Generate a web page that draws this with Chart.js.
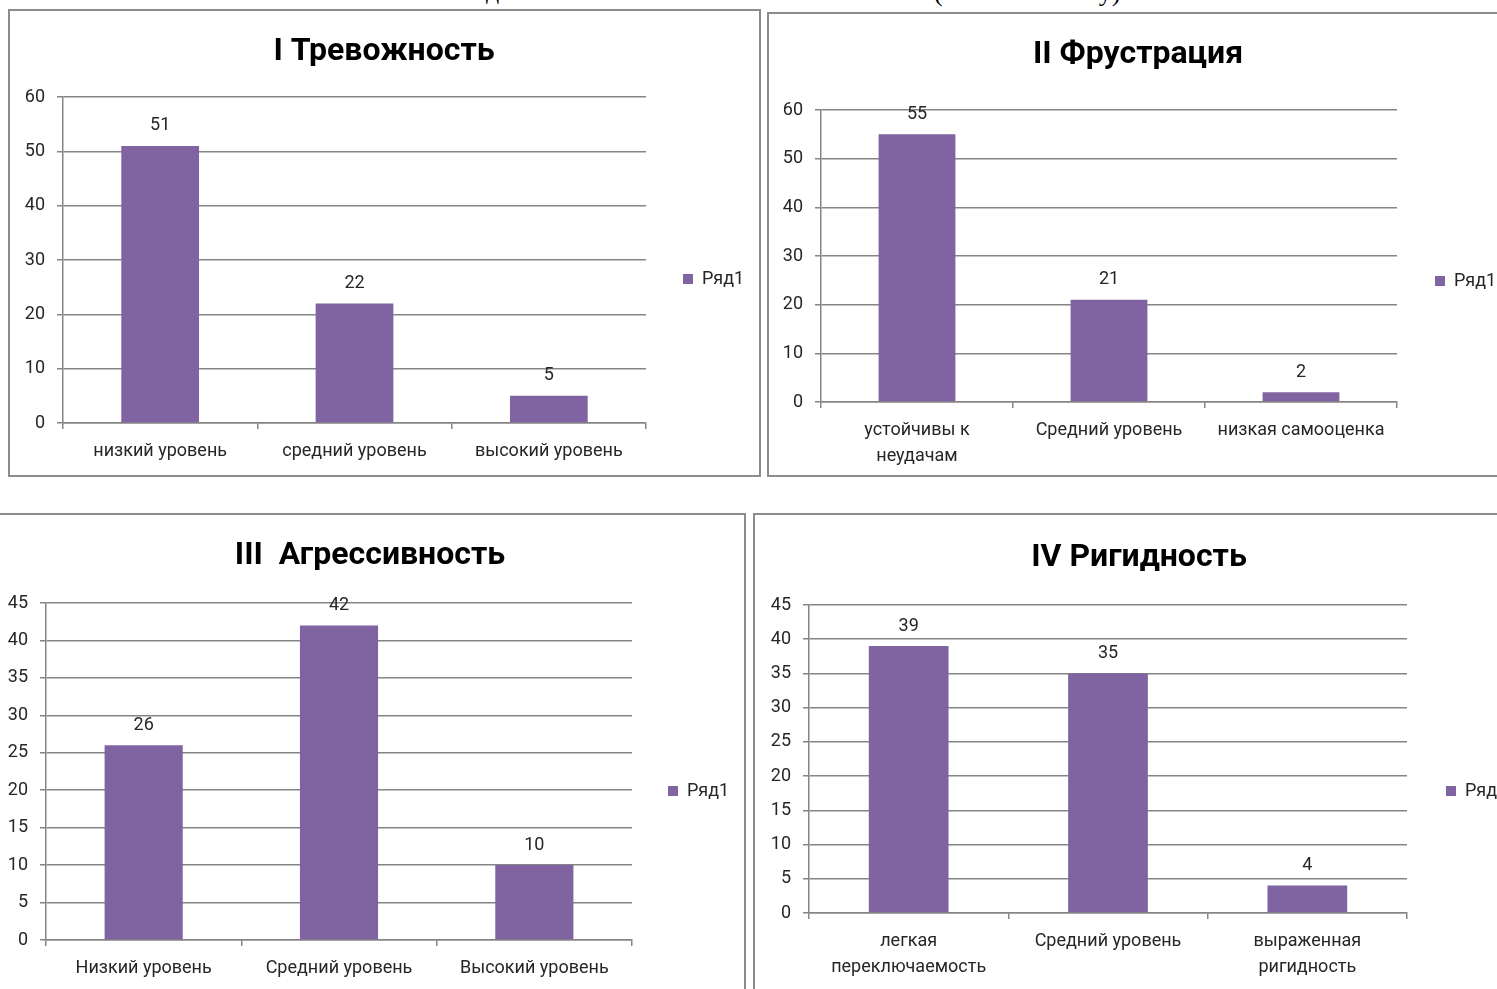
<!DOCTYPE html>
<html>
<head>
<meta charset="utf-8">
<script src="https://cdn.jsdelivr.net/npm/chart.js@4"></script>
<style>
html,body{margin:0;padding:0;width:1497px;height:989px;overflow:hidden;background:#fff;}
.box{position:absolute;border:2px solid #8c8c8c;box-sizing:border-box;}
canvas{position:absolute;}
.cut{position:absolute;font-family:"Liberation Serif",serif;font-size:26px;color:#000;white-space:pre;}
</style>
</head>
<body>
<div class="cut" style="left:486px;top:-24px;">д</div>
<div class="cut" style="left:934px;top:-22px;">(                        у)</div>

<div class="box" style="left:8px;top:9px;width:753px;height:468px;"></div>
<div class="box" style="left:767px;top:12px;width:760px;height:465px;"></div>
<div class="box" style="left:-5px;top:513px;width:751px;height:520px;"></div>
<div class="box" style="left:753px;top:513px;width:780px;height:520px;"></div>

<canvas id="c1"></canvas>
<canvas id="c2"></canvas>
<canvas id="c3"></canvas>
<canvas id="c4"></canvas>

<script>
// ---- data ----
const seriesName = 'Ряд1';

const titles = ['I Тревожность', 'II Фрустрация', 'III  Агрессивность', 'IV Ригидность'];

const categories1 = ['низкий уровень', 'средний уровень', 'высокий уровень'];
const values1 = [51, 22, 5];

const categories2 = [['устойчивы к', 'неудачам'], 'Средний уровень', 'низкая самооценка'];
const values2 = [55, 21, 2];

const categories3 = ['Низкий уровень', 'Средний уровень', 'Высокий уровень'];
const values3 = [26, 42, 10];

const categories4 = [['легкая', 'переключаемость'], 'Средний уровень', ['выраженная', 'ригидность']];
const values4 = [39, 35, 4];

const yMax = [60, 60, 45, 45];
const yStep = [10, 10, 5, 5];

// ---- style / layout ----
const BAR = '#8064A2';
const GRID = '#858585';
const TXT = '#262626';
const FONT = 'Roboto';
const TICK_SIZE = 18;
const CAT_SIZE = 18;
const TITLE_SIZE = 32;
const LEG_SIZE = 18;

// page coordinates of each panel: canvas x-range, top, plot rect, title centre y, legend centre y, legend square x
const panels = [
  {id:'c1', x0:9,   x1:759,  y0:11,  L:63,  R:646,  T:97,  B:423, yt:52,  yc:279, sq:683},
  {id:'c2', x0:769, x1:1507, y0:14,  L:821, R:1397, T:110, B:402, yt:55,  yc:281, sq:1435},
  {id:'c3', x0:-3,  x1:743,  y0:515, L:46,  R:632,  T:603, B:940, yt:556, yc:791, sq:668},
  {id:'c4', x0:755, x1:1523, y0:515, L:809, R:1407, T:605, B:913, yt:558, yc:791, sq:1446}
];

const allCats = [categories1, categories2, categories3, categories4];
const allVals = [values1, values2, values3, values4];

const mctx = document.createElement('canvas').getContext('2d');
mctx.font = LEG_SIZE + 'px ' + FONT;
const legTextW = mctx.measureText(seriesName).width;

const valueLabels = {
  id: 'valueLabels',
  afterDatasetsDraw(chart) {
    const ctx = chart.ctx;
    ctx.save();
    ctx.font = TICK_SIZE + 'px ' + FONT;
    ctx.fillStyle = TXT;
    ctx.textAlign = 'center';
    ctx.textBaseline = 'middle';
    chart.data.datasets.forEach((ds, di) => {
      chart.getDatasetMeta(di).data.forEach((bar, i) => {
        ctx.fillText(String(ds.data[i]), bar.x, bar.y - 20);
      });
    });
    ctx.restore();
  }
};

panels.forEach((p, k) => {
  const cv = document.getElementById(p.id);
  const W = p.x1 - p.x0;
  const y1 = 2 * p.yc - p.y0;
  const H = y1 - p.y0;
  cv.style.left = p.x0 + 'px';
  cv.style.top = p.y0 + 'px';
  cv.style.width = W + 'px';
  cv.style.height = H + 'px';
  cv.width = W; cv.height = H;

  const legPad = p.sq - p.R;
  const boxW = 10;
  const legW = legPad + boxW + LEG_SIZE / 2 + legTextW + 10;
  const padSide = Math.max(0, p.x1 - p.R - legW);
  const lh = TITLE_SIZE * 1.2;
  const tPadTop = p.yt - p.y0 - lh / 2;
  const tPadBot = p.T - p.y0 - lh - tPadTop;
  const yAxisW = p.L - p.x0 - padSide;
  const xAxisH = y1 - p.B;

  new Chart(cv, {
    type: 'bar',
    data: {
      labels: allCats[k],
      datasets: [{
        label: seriesName,
        data: allVals[k],
        backgroundColor: BAR,
        borderWidth: 0,
        categoryPercentage: 1,
        barPercentage: 0.4
      }]
    },
    options: {
      responsive: false,
      animation: false,
      devicePixelRatio: 1,
      layout: { padding: { left: padSide, right: padSide, top: 0, bottom: 0 } },
      plugins: {
        title: {
          display: true,
          text: titles[k],
          color: '#000',
          font: { family: FONT, size: TITLE_SIZE, weight: 'bold', lineHeight: 1.2 },
          padding: { top: tPadTop, bottom: tPadBot }
        },
        legend: {
          display: true,
          position: 'right',
          labels: {
            boxWidth: boxW,
            boxHeight: boxW,
            padding: legPad,
            color: TXT,
            font: { family: FONT, size: LEG_SIZE }
          }
        },
        tooltip: { enabled: false }
      },
      scales: {
        x: {
          afterFit(s) { s.height = xAxisH; },
          grid: { display: true, drawOnChartArea: false, drawTicks: true, tickLength: 6, color: GRID, lineWidth: 1.5, offset: true },
          border: { display: true, color: GRID, width: 1.5 },
          ticks: { color: TXT, padding: 10, maxRotation: 0, autoSkip: false, font: { family: FONT, size: CAT_SIZE, lineHeight: 1.42 } }
        },
        y: {
          min: 0,
          max: yMax[k],
          afterFit(s) { s.width = yAxisW; },
          grid: { color: GRID, lineWidth: 1.5, tickLength: 6, drawTicks: true },
          border: { display: true, color: GRID, width: 1.5 },
          ticks: { stepSize: yStep[k], color: TXT, padding: 12, font: { family: FONT, size: TICK_SIZE } }
        }
      }
    },
    plugins: [valueLabels]
  });
});
</script>
</body>
</html>
